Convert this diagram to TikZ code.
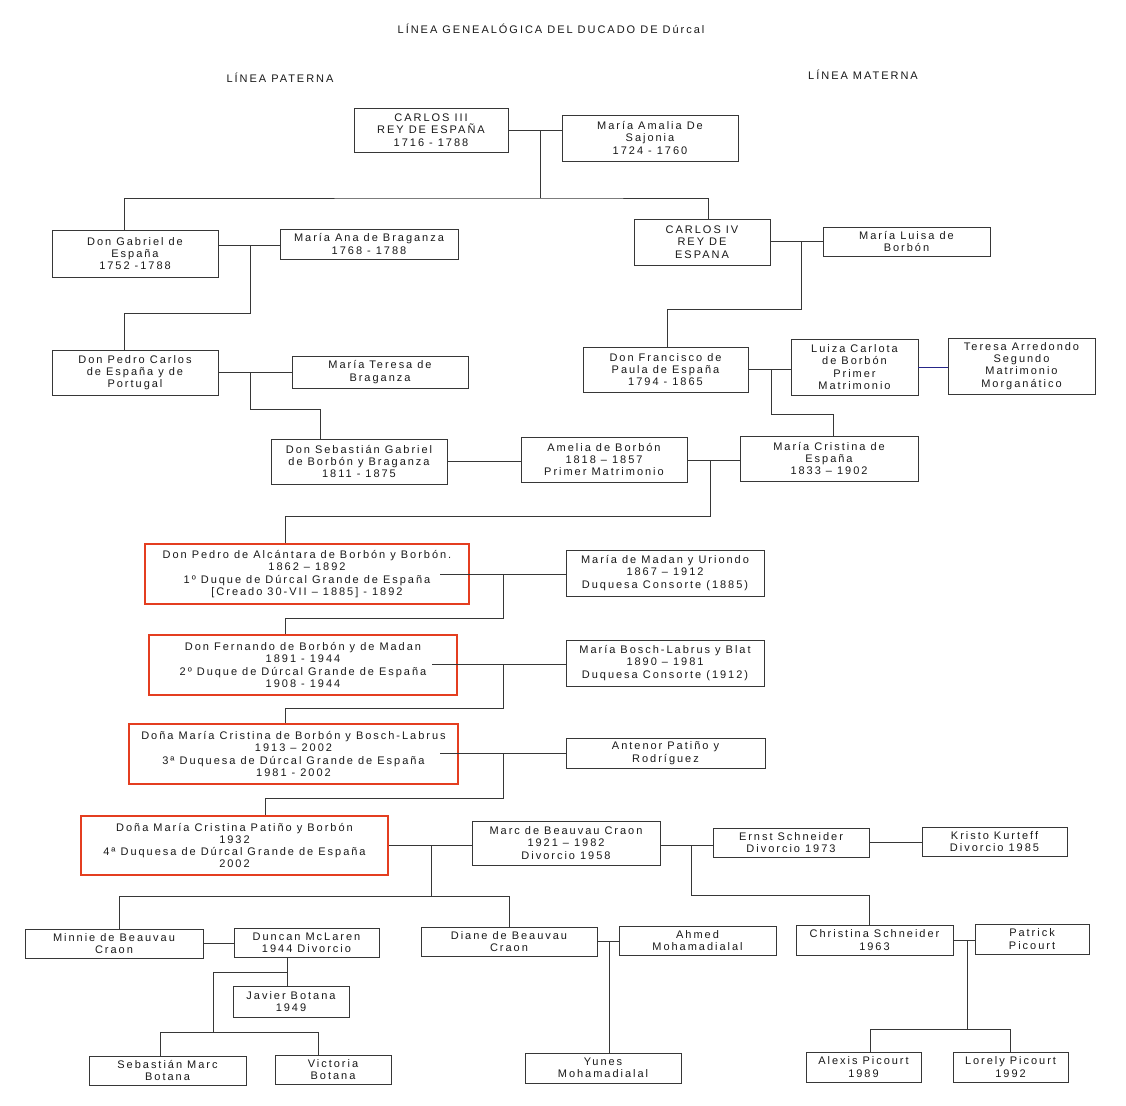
\documentclass[tikz,border=0pt]{standalone}
\usepackage{fontspec}
\setmainfont{Liberation Sans}[LetterSpace=18]
\definecolor{dred}{RGB}{228,62,32}
\definecolor{lnk}{RGB}{55,55,55}
\begin{document}
\begin{tikzpicture}[x=1pt,y=-1pt,
  pbox/.style={draw=lnk, line width=0.85pt, fill=white, align=center, inner sep=0pt,
    font=\fontsize{11}{12.3}\selectfont, text=black!90},
  rbox/.style={pbox, draw=dred, line width=1.6pt},
  link/.style={draw=lnk, line width=0.85pt},
  blink/.style={draw=black!45!blue!70!gray, line width=0.85pt},
  lbl/.style={font=\fontsize{11}{12}\selectfont, text=black!90, inner sep=0pt}]
\useasboundingbox (0,0) rectangle (1126,1105);
\fill[white] (0,0) rectangle (1126,1105);
% headings
\node[lbl] (title) at (551,29) {LÍNEA GENEALÓGICA DEL DUCADO DE Dúrcal};
\node[lbl] (pat) at (280,78) {LÍNEA PATERNA};
\node[lbl] (mat) at (863,75) {LÍNEA MATERNA};
% boxes
\node[pbox, minimum width=154, minimum height=44] (c3) at (431,130) {CARLOS III\\REY DE ESPAÑA\\1716 - 1788};
\node[pbox, minimum width=176, minimum height=46] (ma) at (650,138) {María Amalia De\\Sajonia\\1724 - 1760};
\node[pbox, minimum width=166, minimum height=47] (gab) at (135,253.5) {Don Gabriel de\\España\\1752 -1788};
\node[pbox, minimum width=178, minimum height=30] (mab) at (369,244) {María Ana de Braganza\\1768 - 1788};
\node[pbox, minimum width=136, minimum height=46] (c4) at (702,242) {CARLOS IV\\REY DE\\ESPANA};
\node[pbox, minimum width=167, minimum height=29] (mlb) at (906.5,241.5) {María Luisa de\\Borbón};
\node[pbox, minimum width=166, minimum height=45] (pc) at (135,372.5) {Don Pedro Carlos\\de España y de\\Portugal};
\node[pbox, minimum width=176, minimum height=32] (mtb) at (380,372) {María Teresa de\\Braganza};
\node[pbox, minimum width=165, minimum height=45] (fr) at (665.5,369.5) {Don Francisco de\\Paula de España\\1794 - 1865};
\node[pbox, minimum width=127, minimum height=56] (lc) at (854.5,367) {Luiza Carlota\\de Borbón\\Primer\\Matrimonio};
\node[pbox, minimum width=147, minimum height=56] (ta) at (1021.5,366) {Teresa Arredondo\\Segundo\\Matrimonio\\Morganático};
\node[pbox, minimum width=176, minimum height=45] (sg) at (359,461.5) {Don Sebastián Gabriel\\de Borbón y Braganza\\1811 - 1875};
\node[pbox, minimum width=166, minimum height=45] (am) at (604,459.5) {Amelia de Borbón\\1818 – 1857\\Primer Matrimonio};
\node[pbox, minimum width=178, minimum height=45] (mc) at (829,458.5) {María Cristina de\\España\\1833 – 1902};
\node[rbox, minimum width=324, minimum height=60] (pa) at (307,574) {Don Pedro de Alcántara de Borbón y Borbón.\\1862 – 1892\\1º Duque de Dúrcal Grande de España\\{[}Creado 30-VII – 1885{]} - 1892};
\node[pbox, minimum width=198, minimum height=46] (mm) at (665,573) {María de Madan y Uriondo\\1867 – 1912\\Duquesa Consorte (1885)};
\node[rbox, minimum width=308, minimum height=60] (fe) at (303,665) {Don Fernando de Borbón y de Madan\\1891 - 1944\\2º Duque de Dúrcal Grande de España\\1908 - 1944};
\node[pbox, minimum width=198, minimum height=46] (mb) at (665,663) {María Bosch-Labrus y Blat\\1890 – 1981\\Duquesa Consorte (1912)};
\node[rbox, minimum width=329, minimum height=60] (dc) at (293.5,754) {Doña María Cristina de Borbón y Bosch-Labrus\\1913 – 2002\\3ª Duquesa de Dúrcal Grande de España\\1981 - 2002};
\node[pbox, minimum width=199, minimum height=30] (ap) at (665.5,753) {Antenor Patiño y\\Rodríguez};
\node[rbox, minimum width=307, minimum height=59] (cp) at (234.5,845.5) {Doña María Cristina Patiño y Borbón\\1932\\4ª Duquesa de Dúrcal Grande de España\\2002};
\node[pbox, minimum width=188, minimum height=44] (mcb) at (566,843) {Marc de Beauvau Craon\\1921 – 1982\\Divorcio 1958};
\node[pbox, minimum width=156, minimum height=29] (es) at (791,842.5) {Ernst Schneider\\Divorcio 1973};
\node[pbox, minimum width=145, minimum height=29] (kk) at (994.5,841.5) {Kristo Kurteff\\Divorcio 1985};
\node[pbox, minimum width=178, minimum height=29] (mi) at (114,943.5) {Minnie de Beauvau\\Craon};
\node[pbox, minimum width=145, minimum height=29] (dm) at (306.5,942.5) {Duncan McLaren\\1944 Divorcio};
\node[pbox, minimum width=116, minimum height=31] (jb) at (291,1001.5) {Javier Botana\\1949};
\node[pbox, minimum width=157, minimum height=29] (sm) at (167.5,1070.5) {Sebastián Marc\\Botana};
\node[pbox, minimum width=116, minimum height=29] (vb) at (333,1069.5) {Victoria\\Botana};
\node[pbox, minimum width=176, minimum height=29] (di) at (509,941.5) {Diane de Beauvau\\Craon};
\node[pbox, minimum width=157, minimum height=29] (ah) at (697.5,940.5) {Ahmed\\Mohamadialal};
\node[pbox, minimum width=156, minimum height=30] (yu) at (603,1068) {Yunes\\Mohamadialal};
\node[pbox, minimum width=157, minimum height=30] (cs) at (874.5,940) {Christina Schneider\\1963};
\node[pbox, minimum width=114, minimum height=30] (pp) at (1032,939) {Patrick\\Picourt};
\node[pbox, minimum width=115, minimum height=30] (al) at (863.5,1067) {Alexis Picourt\\1989};
\node[pbox, minimum width=115, minimum height=30] (lp) at (1010.5,1067) {Lorely Picourt\\1992};
% junction coordinates
\coordinate (j1) at (540,130);  \coordinate (j1b) at (540,198);
\coordinate (j2) at (250,245);  \coordinate (j2b) at (250,313);
\coordinate (j3) at (801,241);  \coordinate (j3b) at (801,309);
\coordinate (j4) at (250,372);  \coordinate (j4b) at (250,409);
\coordinate (j6) at (771,369);  \coordinate (j6b) at (771,414);
\coordinate (j7) at (710,460);  \coordinate (j7b) at (710,516);
\coordinate (paR) at (440,574); \coordinate (j8) at (503,574); \coordinate (j8b) at (503,618);
\coordinate (feR) at (432,664); \coordinate (j9) at (503,664); \coordinate (j9b) at (503,708);
\coordinate (dcR) at (440,753); \coordinate (j10) at (503,753); \coordinate (j10b) at (503,798);
\coordinate (j11) at (431,845);  \coordinate (j11b) at (431,896);
\coordinate (j12) at (691,845);  \coordinate (j12b) at (691,895);
\coordinate (j13) at (287,972);  \coordinate (j13l) at (213,972); \coordinate (j13b) at (213,1032);
\coordinate (j14) at (609,941);
\coordinate (j15) at (967,940);  \coordinate (j15b) at (967,1029);
% connectors
\begin{scope}[link]
\draw (c3.east) -- (c3.east -| ma.west);
\draw (j1) -- (j1b);
\draw (gab.north -| 124,0) |- (j1b) -| (c4.north -| 708,0);
\draw (gab.east |- j2) -- (mab.west |- j2);
\draw (j2) -- (j2b) -| (pc.north -| 124,0);
\draw (c4.east |- j3) -- (mlb.west |- j3);
\draw (j3) -- (j3b) -| (fr.north -| 667,0);
\draw (pc.east |- j4) -- (mtb.west |- j4);
\draw (j4) -- (j4b) -| (sg.north -| 320,0);
\draw (sg.east |- 0,461) -- (am.west |- 0,461);
\draw (fr.east |- j6) -- (lc.west |- j6);
\draw (j6) -- (j6b) -| (mc.north -| 833,0);
\draw (am.east |- j7) -- (mc.west |- j7);
\draw (j7) -- (j7b) -| (pa.north -| 285,0);
\draw (paR) -- (mm.west |- paR);
\draw (j8) -- (j8b) -| (fe.north -| 285,0);
\draw (feR) -- (mb.west |- feR);
\draw (j9) -- (j9b) -| (dc.north -| 285,0);
\draw (dcR) -- (ap.west |- dcR);
\draw (j10) -- (j10b) -| (cp.north -| 265,0);
\draw (cp.east |- j11) -- (mcb.west |- j11);
\draw (j11) -- (j11b);
\draw (mi.north -| 119,0) |- (j11b) -| (di.north);
\draw (mcb.east |- j12) -- (es.west |- j12);
\draw (j12) -- (j12b) -| (cs.north -| 869,0);
\draw (mi.east |- 0,943) -- (dm.west |- 0,943);
\draw (dm.south -| j13) -- (jb.north -| j13);
\draw (j13) -- (j13l) -- (j13b);
\draw (sm.north -| 160,0) |- (j13b) -| (vb.north -| 318,0);
\draw (di.east |- j14) -- (ah.west |- j14);
\draw (j14) -- (yu.north -| j14);
\draw (cs.east |- j15) -- (pp.west |- j15);
\draw (j15) -- (j15b);
\draw (al.north -| 870,0) |- (j15b) -| (lp.north -| 1010,0);
\end{scope}
\draw[blink] (lc.east |- 0,367) -- (ta.west |- 0,367);
\draw[link] (es.east |- 0,842) -- (kk.west |- 0,842);
\end{tikzpicture}
\end{document}
